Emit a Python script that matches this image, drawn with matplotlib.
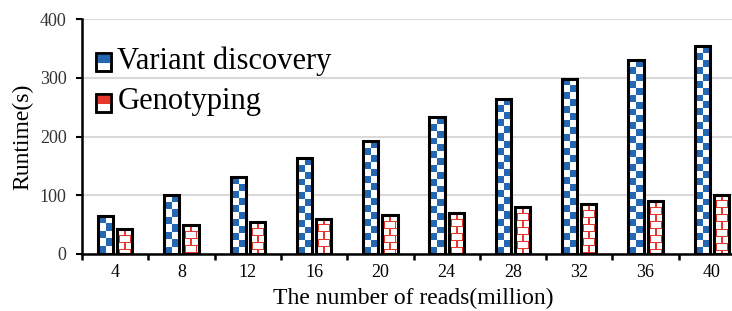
import numpy as np
import matplotlib
matplotlib.use("Agg")
import matplotlib.pyplot as plt
from matplotlib.colors import ListedColormap
from matplotlib.patches import Rectangle

plt.rcParams['font.family'] = ['Liberation Serif', 'DejaVu Serif']

reads = ["4", "8", "12", "16", "20", "24", "28", "32", "36", "40"]
variant = [65, 101, 131, 163, 192, 233, 264, 298, 330, 354]
genotyping = [42, 49, 54, 60, 66, 69, 80, 85, 90, 101]

blue = "#2468b4"
red = "#e8372d"

fig = plt.figure(figsize=(7.32, 3.11), dpi=100)
ax = fig.add_axes([82 / 732, 57 / 311, 663 / 732, 235 / 311])

x = np.arange(len(reads))
xlim = (-0.5, len(reads) - 0.5)
ylim = (0, 400)
ax.set_xlim(*xlim)
ax.set_ylim(*ylim)


def px_height(h):
    return abs(ax.transData.transform((0, h))[1] - ax.transData.transform((0, 0))[1])


def px_width(w):
    return abs(ax.transData.transform((w, 0))[0] - ax.transData.transform((0, 0))[0])


def checker(bar):
    x0, w, h = bar.get_x(), bar.get_width(), bar.get_height()
    nrows = max(1, int(round(px_height(h) / 7)))
    img = np.add.outer(np.arange(nrows), np.arange(2)) % 2
    ax.imshow(img, cmap=ListedColormap([blue, "white"]), extent=(x0, x0 + w, 0, h),
              origin="lower", interpolation="nearest", aspect="auto", zorder=2)


def brick(bar):
    x0, w, h = bar.get_x(), bar.get_width(), bar.get_height()
    hp = max(1, int(round(px_height(h))))
    wp = max(4, int(round(px_width(w))))
    img = np.zeros((hp, wp))
    for r in range(hp):
        k = r // 7
        if r % 7 == 6:
            img[r, :] = 1
        elif k % 2 == 0:
            img[r, wp // 2] = 1
        else:
            img[r, 2] = 1
            img[r, wp - 3] = 1
    ax.imshow(img, cmap=ListedColormap(["white", red]), extent=(x0, x0 + w, 0, h),
              origin="upper", interpolation="nearest", aspect="auto", zorder=2)


bw = 0.23
bv = ax.bar(x - 0.145, variant, width=bw, facecolor="none", edgecolor="black", lw=2.2, zorder=3)
bg = ax.bar(x + 0.145, genotyping, width=bw, facecolor="none", edgecolor="black", lw=2.2, zorder=3)
for b in bv:
    checker(b)
for b in bg:
    brick(b)

ax.set_xlim(*xlim)
ax.set_ylim(*ylim)


class PatternHandler:
    def __init__(self, color):
        self.color = color

    def legend_artist(self, legend, orig_handle, fontsize, handlebox):
        x0, y0 = handlebox.xdescent, handlebox.ydescent
        w, h = handlebox.width, handlebox.height
        t = handlebox.get_transform()
        box = Rectangle([x0, y0], w, h, facecolor="white", edgecolor="black", lw=1.8, transform=t)
        top = Rectangle([x0, y0 + h * 0.45], w, h * 0.55, facecolor=self.color, edgecolor="none", transform=t)
        edge = Rectangle([x0, y0], w, h, facecolor="none", edgecolor="black", lw=1.8, transform=t)
        handlebox.add_artist(box)
        handlebox.add_artist(top)
        handlebox.add_artist(edge)
        return box


hv = Rectangle((0, 0), 1, 1)
hg = Rectangle((0, 0), 1, 1)
ax.legend([hv, hg], ["Variant discovery", "Genotyping"],
          handler_map={hv: PatternHandler(blue), hg: PatternHandler(red)},
          loc="upper left", bbox_to_anchor=(-0.011, 0.975), frameon=False, fontsize=22,
          handlelength=0.5, handleheight=0.5, handletextpad=0.2, labelspacing=0.38,
          borderaxespad=0.3)

ax.set_yticks([0, 100, 200, 300, 400])
ax.yaxis.grid(True, color="#d9d9d9", lw=1.5)
ax.set_axisbelow(True)
ax.set_xticks(x)
ax.set_xticklabels(reads)
ax.set_xticks(np.arange(len(reads) + 1) - 0.5, minor=True)
ax.tick_params(axis="x", which="major", length=0, pad=7, labelsize=13)
ax.tick_params(axis="x", which="minor", length=4, width=1.8, direction="out")
ax.tick_params(axis="y", length=4, width=1.5, direction="out", pad=7, labelsize=13, labelcolor="#333333")

for s in ["top", "right"]:
    ax.spines[s].set_visible(False)
for s in ["left", "bottom"]:
    ax.spines[s].set_linewidth(1.8)

ax.set_ylabel("Runtime(s)", fontsize=17, labelpad=5)
ax.set_xlabel("The number of reads(million)", fontsize=17, labelpad=5)

fig.savefig("out.png", dpi=100)
